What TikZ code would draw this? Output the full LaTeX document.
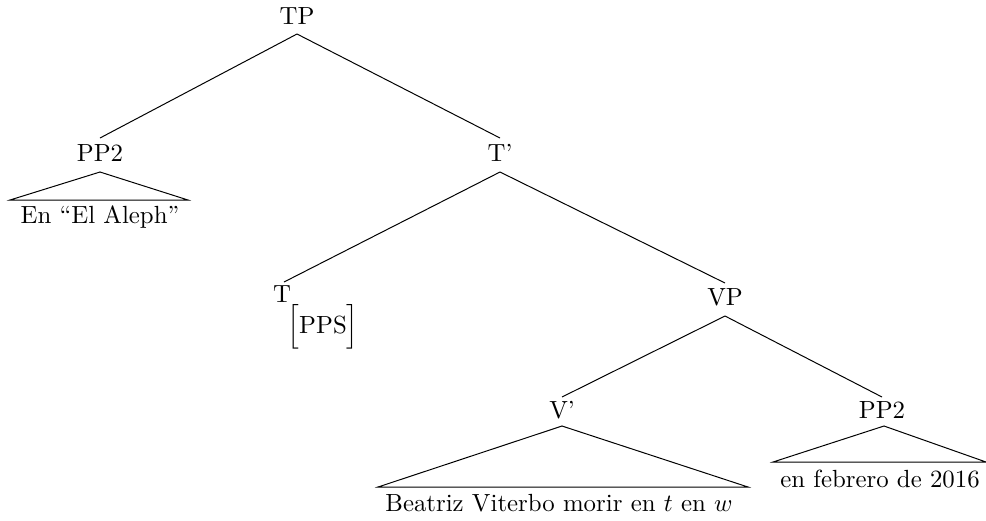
\documentclass[tikz,border=0pt]{standalone}
\usepackage{amsmath}
\begin{document}
\begin{tikzpicture}[x=0.403pt,y=-0.403pt,
  lab/.style={inner sep=0pt, font=\fontsize{10}{12}\selectfont},
  edge/.style={line width=0.4pt},
  roof/.style={line width=0.4pt}]
\useasboundingbox (0,0) rectangle (986,520);
% nodes
\node[lab] (TP) at (297,16) {TP};
\node[lab] (PPa) at (100,153) {PP2};
\node[lab] (Tb) at (500,153) {T'};
\node[lab] (T) at (282,294) {T};
\node[lab] (PPS) at (323,327) {$\Bigl[\text{PPS}\Bigr]$};
\node[lab] (VP) at (725,297) {VP};
\node[lab] (Vb) at (562,410) {V'};
\node[lab] (PPb) at (882,410) {PP2};
\node[lab] (PPaT) at (100,217) {En ``El Aleph''};
\node[lab] (VbT) at (559,503) {Beatriz Viterbo morir en $t$ en $w$};
\node[lab] (PPbT) at (880,479) {en febrero de 2016};
% apex / base coordinates
\coordinate (TPb) at (297,34);
\coordinate (PPat) at (100,138);
\coordinate (Tbt) at (500,138);
\coordinate (Tbb) at (500,172);
\coordinate (Tt) at (284,282);
\coordinate (VPt) at (725,283);
\coordinate (VPb) at (725,316);
\coordinate (Vbt) at (562,397);
\coordinate (PPbt) at (882,397);
% branches
\draw[edge] (TPb) -- (PPat);
\draw[edge] (TPb) -- (Tbt);
\draw[edge] (Tbb) -- (Tt);
\draw[edge] (Tbb) -- (VPt);
\draw[edge] (VPb) -- (Vbt);
\draw[edge] (VPb) -- (PPbt);
% roofs
\coordinate (PPaA) at (100,172);
\coordinate (PPaL) at (10,200);
\coordinate (PPaR) at (188,200);
\draw[roof] (PPaL) -- (PPaA) -- (PPaR) -- cycle;
\coordinate (VbA) at (562,426);
\coordinate (VbL) at (378,487);
\coordinate (VbR) at (748,487);
\draw[roof] (VbL) -- (VbA) -- (VbR) -- cycle;
\coordinate (PPbA) at (884,426);
\coordinate (PPbL) at (773,462);
\coordinate (PPbR) at (986,462);
\draw[roof] (PPbL) -- (PPbA) -- (PPbR) -- cycle;
\end{tikzpicture}
\end{document}
